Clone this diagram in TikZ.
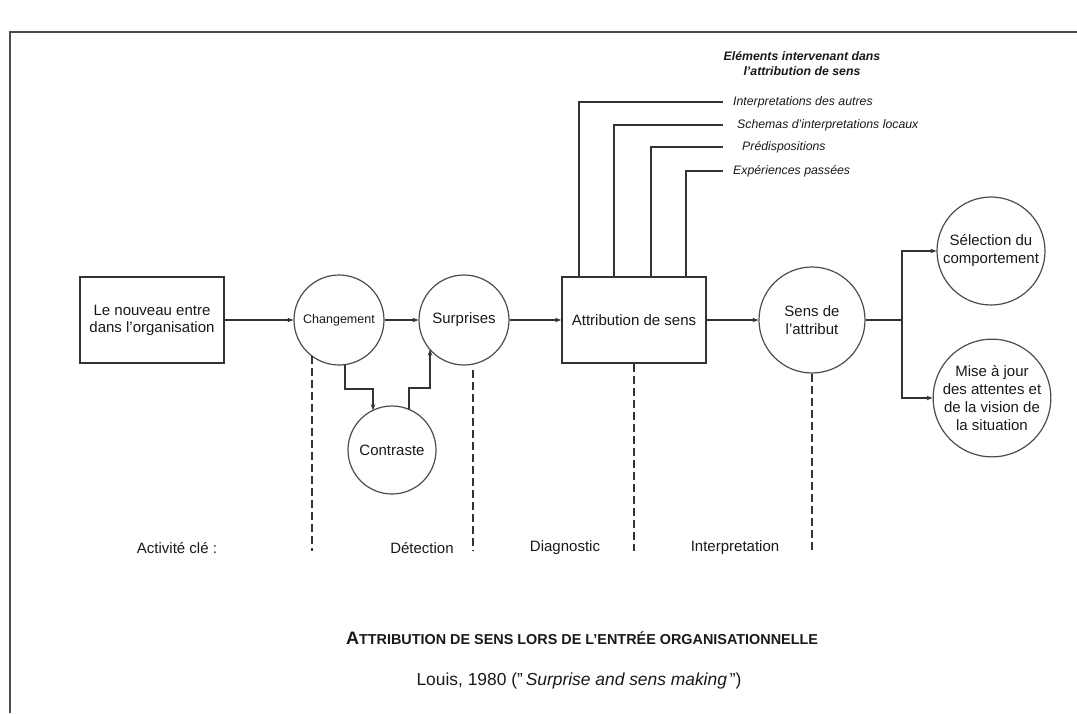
\documentclass[tikz,border=0pt]{standalone}
\usepackage{fontspec}
\setmainfont{Liberation Sans}
\usetikzlibrary{arrows.meta,calc}
\begin{document}
\begin{tikzpicture}[x=1pt,y=-1pt,
  line/.style={draw=black!80, line width=1.8pt},
  arr/.style={line, -{Stealth[length=6pt,width=4.5pt]}},
  bx/.style={draw=black!80, line width=1.8pt, inner sep=0pt, align=center, text=black!90,
    font=\fontsize{15}{17}\selectfont, minimum width=144pt, minimum height=86pt},
  circ/.style={circle, draw=black!70, line width=1.2pt, inner sep=0pt, align=center, text=black!90,
    font=\fontsize{15}{18}\selectfont},
  dsh/.style={draw=black!80, line width=1.8pt, dash pattern=on 8pt off 4pt},
  lbl/.style={font=\fontsize{15}{17}\selectfont, text=black!90, inner sep=0pt},
  elt/.style={font=\fontsize{12.3}{14}\selectfont\itshape, text=black!90, anchor=west, inner ysep=0pt}]
\useasboundingbox (0,0) rectangle (1077,713);
\draw[line width=2pt, black!70] (10,713) -- (10,32) -- (1077,32);

% main row
\node[bx] (nouv) at (152,320) {Le nouveau entre\\dans l'organisation};
\node[circ, minimum size=90pt, font=\fontsize{12.5}{15}\selectfont] (chg) at (339,320) {Changement};
\node[circ, minimum size=90pt] (sur) at (464,320) {Surprises};
\node[circ, minimum size=88pt] (con) at (392,450) {Contraste};
\node[bx] (attr) at (634,320) {Attribution de sens};
\node[circ, minimum size=106pt] (sens) at (812,320) {Sens de\\l'attribut};
\node[circ, minimum size=108pt] (sel) at (991,251) {Sélection du\\comportement};
\node[circ, minimum size=104pt] (mise) at (992,398) {Mise à jour\\des attentes et\\de la vision de\\la situation};

\draw[arr] (nouv.east) -- (chg.west);
\draw[arr] (chg.east) -- (sur.west);
\draw[arr] (sur.east) -- (attr.west);
\draw[arr] (attr.east) -- (sens.west);
\draw[arr] ([xshift=6pt,yshift=0.4pt]chg.south) -- ++(0,23.4) -| ([xshift=-19pt,yshift=39.7pt]con.center);
\draw[arr] ([xshift=17pt,yshift=40.6pt]con.center) -- ++(0,-21.5) -| ([xshift=-34pt,yshift=-29.5pt]sur.center);

\coordinate (br) at (902,320);
\draw[line] (sens.east) -- (br);
\draw[arr] (br) |- (sel.west);
\draw[arr] (br) |- (mise.west);

% elements
\node[font=\fontsize{12.3}{15}\selectfont\bfseries\itshape, text=black!90, align=center] (tit) at (802,64)
  {Eléments intervenant dans\\l'attribution de sens};
\node[elt, inner xsep=10pt] (e1) at (723,102) {Interpretations des autres};
\node[elt, inner xsep=14pt] (e2) at (723,125) {Schemas d'interpretations locaux};
\node[elt, inner xsep=19pt] (e3) at (723,147) {Prédispositions};
\node[elt, inner xsep=10pt] (e4) at (723,171) {Expériences passées};
\draw[line] ([xshift=18pt]attr.north west) |- (e1.west);
\draw[line] ([xshift=53pt]attr.north west) |- (e2.west);
\draw[line] ([xshift=90pt]attr.north west) |- (e3.west);
\draw[line] ([xshift=125pt]attr.north west) |- (e4.west);

% dashed separators
\coordinate (bot) at (0,551);
\draw[dsh] ([xshift=-27pt,yshift=-36pt]chg.center) -- ([xshift=-27pt]chg.center |- bot);
\draw[dsh] ([xshift=9pt,yshift=-50pt]sur.center) -- ([xshift=9pt]sur.center |- bot);
\draw[dsh] (attr.south) -- (attr.south |- bot);
\draw[dsh] (sens.south) -- (sens.south |- bot);

% activity labels
\node[lbl] (act) at (177,548) {Activité clé :};
\node[lbl] (det) at (422,548) {Détection};
\node[lbl] (dia) at (565,548) {Diagnostic};
\node[lbl] (int) at (735,548) {Interpretation};

% caption
\node[text=black!90, inner sep=0pt] (cap1) at (582,638)
  {\bfseries\fontsize{18}{20}\selectfont A\fontsize{14.4}{16}\selectfont TTRIBUTION DE SENS LORS DE L'ENTRÉE ORGANISATIONNELLE};
\node[text=black!90, inner sep=0pt, font=\fontsize{17.4}{20}\selectfont] (cap2) at (579,681)
  {Louis, 1980 ("\,\textit{Surprise and sens making}\,")};
\end{tikzpicture}
\end{document}
